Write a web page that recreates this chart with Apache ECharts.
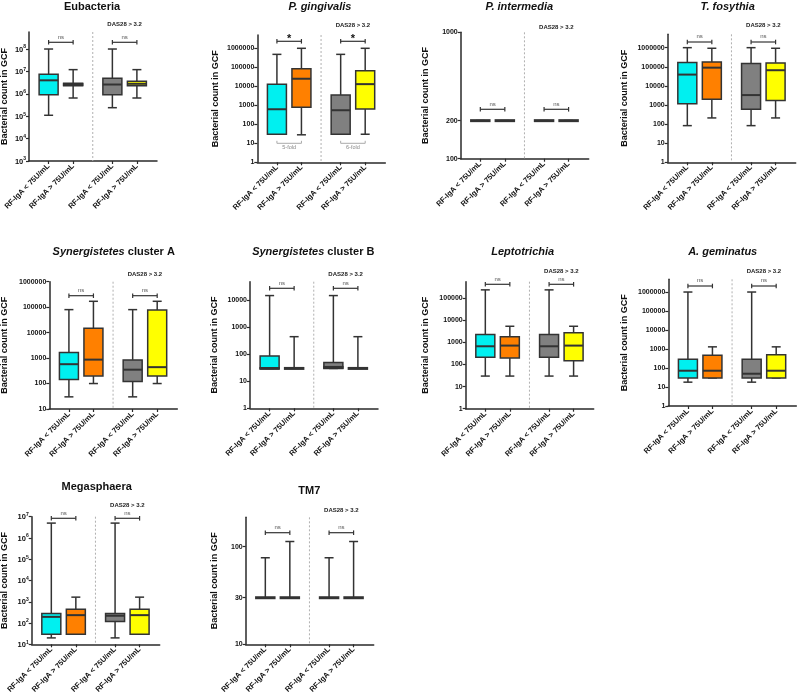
<!DOCTYPE html>
<html><head><meta charset="utf-8">
<script src="https://cdn.jsdelivr.net/npm/echarts@6/dist/echarts.min.js"></script>
<style>html,body{margin:0;padding:0;background:#fff}#c{width:800px;height:698px}</style>
</head><body><div id="c"></div>
<script>
// ---------- DATA ----------
const categories = ['RF-IgA < 75U/mL', 'RF-IgA > 75U/mL', 'RF-IgA < 75U/mL', 'RF-IgA > 75U/mL'];
const subgroupLabel = 'DAS28 > 3.2';
const yAxisTitle = 'Bacterial count in GCF';
const panelTitles = [
  [['Eubacteria', false]], [['P. gingivalis', true]], [['P. intermedia', true]], [['T. fosythia', true]],
  [['Synergistetes', true], [' cluster A', false]], [['Synergistetes', true], [' cluster B', false]],
  [['Leptotrichia', true]], [['A. geminatus', true]], [['Megasphaera', false]], [['TM7', false]]
];
// each group: [min, Q1, median, Q3, max]
const eubacteria = [[1.1e5, 9.0e5, 4.0e6, 7.4e6, 1.0e8], [6.5e5, 2.3e6, 2.6e6, 3.0e6, 1.2e7], [2.4e5, 9.0e5, 2.6e6, 4.9e6, 1.0e8], [6.5e5, 2.3e6, 2.8e6, 3.6e6, 1.2e7]];
const pGingivalis = [[30, 30, 620, 13000, 480000], [28, 780, 25000, 85000, 1000000], [30, 30, 550, 3500, 480000], [30, 630, 13000, 65000, 1000000]];
const pIntermedia = [[200, 200, 200, 200, 200], [200, 200, 200, 200, 200], [200, 200, 200, 200, 200], [200, 200, 200, 200, 200]];
const tForsythia = [[83, 1170, 39000, 170000, 1000000], [210, 2000, 90000, 180000, 930000], [83, 590, 3300, 150000, 1000000], [210, 1700, 66000, 160000, 930000]];
const synergistetesA = [[30, 145, 575, 1660, 80000], [100, 200, 870, 15000, 170000], [30, 120, 350, 850, 80000], [100, 200, 440, 77000, 170000]];
const synergistetesB = [[30, 30, 30, 87, 15000], [30, 30, 30, 30, 450], [30, 30, 33, 50, 15000], [30, 30, 30, 30, 450]];
const leptotrichia = [[30, 215, 670, 2300, 240000], [30, 200, 720, 1800, 5400], [30, 215, 670, 2300, 240000], [30, 150, 720, 2750, 5400]];
const aGeminatus = [[18, 30, 72, 290, 1000000], [30, 30, 72, 470, 1300], [18, 30, 50, 290, 1000000], [30, 30, 72, 500, 1300]];
const megasphaera = [[20, 30, 195, 280, 5000000], [30, 30, 235, 440, 1650], [20, 118, 220, 280, 5000000], [30, 30, 235, 440, 1650]];
const tm7 = [[30, 30, 30, 30, 77], [30, 30, 30, 30, 113], [30, 30, 30, 30, 77], [30, 30, 30, 30, 113]];
const significance = [['ns', 'ns'], ['*', '*'], ['ns', 'ns'], ['ns', 'ns'], ['ns', 'ns'], ['ns', 'ns'], ['ns', 'ns'], ['ns', 'ns'], ['ns', 'ns'], ['ns', 'ns']];
const foldChangePG = ['5-fold', '6-fold'];
// tick labels
const ticksEU = [1e3, 1e4, 1e5, 1e6, 1e7, 1e8];
const ticksPG = [1, 10, 100, 1000, 10000, 100000, 1000000];
const ticksPI = [100, 200, 1000];
const ticksTF = [1, 10, 100, 1000, 10000, 100000, 1000000];
const ticksSA = [10, 100, 1000, 10000, 100000, 1000000];
const ticksSB = [1, 10, 100, 1000, 10000];
const ticksLE = [1, 10, 100, 1000, 10000, 100000];
const ticksAG = [1, 10, 100, 1000, 10000, 100000, 1000000];
const ticksME = [10, 100, 1000, 10000, 100000, 1000000, 10000000];
const ticksTM = [10, 30, 100];

// ---------- LAYOUT ----------
const panelData = [eubacteria, pGingivalis, pIntermedia, tForsythia, synergistetesA, synergistetesB, leptotrichia, aGeminatus, megasphaera, tm7];
const panelTicks = [ticksEU, ticksPG, ticksPI, ticksTF, ticksSA, ticksSB, ticksLE, ticksAG, ticksME, ticksTM];
const layout = [
  {left: 29, top: 32, bottom: 161, ymin: 1e3, ymaxExp: 8.76, sup: true, tx: 92, ty: 7, nx: 5, dasY: 24, brY: 42.3},
  {left: 257.3, top: 35, bottom: 162.3, ymin: 1, ymaxExp: 6.7, tx: 320, ty: 7, nx: 216, dasY: 25.7, brY: 41.3, foldY: 143.3},
  {left: 460.7, top: 32.3, bottom: 158.7, ymin: 100, ymaxExp: 3, tx: 519.3, ty: 7, nx: 426, dasY: 27.3, brY: 109.3},
  {left: 667.7, top: 34.3, bottom: 162.3, ymin: 1, ymaxExp: 6.7, tx: 727.7, ty: 7, nx: 624.5, dasY: 25.7, brY: 42},
  {left: 49.3, top: 281.7, bottom: 409, ymin: 10, ymaxExp: 6, tx: 113.7, ty: 252.3, nx: 5, dasY: 274.3, brY: 295.7},
  {left: 250, top: 281.7, bottom: 408.3, ymin: 1, ymaxExp: 4.69, tx: 313.3, ty: 252.3, nx: 215, dasY: 274.3, brY: 288.3},
  {left: 465.7, top: 281.7, bottom: 408.7, ymin: 1, ymaxExp: 5.75, tx: 522.7, ty: 251.7, nx: 426, dasY: 271, brY: 284.3},
  {left: 668.3, top: 279.3, bottom: 406, ymin: 1, ymaxExp: 6.67, tx: 722.7, ty: 251.7, nx: 624.5, dasY: 271, brY: 286},
  {left: 31.7, top: 516.7, bottom: 644.3, ymin: 10, ymaxExp: 7, sup: true, tx: 96.7, ty: 487, nx: 5, dasY: 505, brY: 518.3},
  {left: 245.7, top: 517.3, bottom: 644.3, ymin: 10, ymaxExp: Math.log10(200), tx: 309.3, ty: 491, nx: 215, dasY: 510.7, brY: 532.7}
];
const xPos = [1, 2, 3.6, 4.6];
const sepX = 2.8;
const XMIN = 0.2, XMAX = 5.42, GRID_W = 128;
const colors = ['#00F0F0', '#FF8000', '#808080', '#FFFF00'];
const FONT = "'Liberation Sans', Arial, sans-serif";
const INK = '#2a2a2a';

const grids = [], xAxes = [], yAxes = [], series = [], graphics = [];

layout.forEach((L, i) => {
  grids.push({left: L.left, top: L.top, width: GRID_W, height: L.bottom - L.top, outerBoundsMode: 'none', containLabel: false});
  xAxes.push({
    gridIndex: i, type: 'value', min: XMIN, max: XMAX,
    axisLine: {show: true, onZero: false, lineStyle: {color: INK, width: 1.5}},
    splitLine: {show: false},
    axisTick: {show: true, customValues: xPos, length: 3, lineStyle: {color: INK, width: 1.2}},
    axisLabel: {
      customValues: xPos, rotate: 45, margin: 4,
      formatter: v => { const k = xPos.findIndex(p => Math.abs(p - v) < 1e-6); return k >= 0 ? categories[k] : ''; },
      fontSize: 7.5, fontWeight: 'bold', color: '#111', fontFamily: FONT
    }
  });
  const ticks = panelTicks[i];
  const yl = {
    customValues: ticks, margin: 3, fontSize: 7, fontWeight: 'bold', color: '#111', fontFamily: FONT,
    formatter: v => {
      if (L.sup) {
        const e = String(Math.round(Math.log10(v)));
        return '{b|10}{s|' + e + '}';
      }
      return String(Math.round(v));
    }
  };
  if (L.sup) {
    yl.rich = {
      b: {fontSize: 7.5, fontWeight: 'bold', fontFamily: FONT, color: '#111', verticalAlign: 'bottom', lineHeight: 9},
      s: {fontSize: 5, fontWeight: 'bold', fontFamily: FONT, color: '#111', verticalAlign: 'top', lineHeight: 9}
    };
  }
  yAxes.push({
    gridIndex: i, type: 'log', logBase: 10, min: L.ymin, max: Math.pow(10, L.ymaxExp),
    axisLine: {show: true, onZero: false, lineStyle: {color: INK, width: 1.5}},
    splitLine: {show: false}, minorTick: {show: false},
    axisTick: {show: true, customValues: ticks, length: 3, lineStyle: {color: INK, width: 1.2}},
    axisLabel: yl
  });

  // box series
  series.push({
    type: 'custom', xAxisIndex: i, yAxisIndex: i, silent: true, animation: false, clip: false,
    data: panelData[i].map((s, k) => [xPos[k], s[0], s[1], s[2], s[3], s[4], k]),
    encode: {x: 0, y: [1, 2, 3, 4, 5]},
    renderItem: (params, api) => {
      const x = api.value(0), k = api.value(6);
      const cx = api.coord([x, api.value(3)])[0];
      const yMin = api.coord([x, api.value(1)])[1];
      const yQ1 = api.coord([x, api.value(2)])[1];
      const yMed = api.coord([x, api.value(3)])[1];
      const yQ3 = api.coord([x, api.value(4)])[1];
      const yMax = api.coord([x, api.value(5)])[1];
      const hw = 9.5, cw = 4.5, st = '#333';
      const ln = (x1, y1, x2, y2, w) => ({type: 'line', shape: {x1, y1, x2, y2}, style: {stroke: st, lineWidth: w}});
      const h = yQ1 - yQ3;
      const ch = [
        ln(cx, yMax, cx, yQ3, 1.5),
        ln(cx, yQ1, cx, yMin, 1.5),
        ln(cx - cw, yMax, cx + cw, yMax, 1.5),
        ln(cx - cw, yMin, cx + cw, yMin, 1.5)
      ];
      if (h > 1.5) {
        ch.push({type: 'rect', shape: {x: cx - hw, y: yQ3, width: 2 * hw, height: h}, style: {fill: colors[k], stroke: st, lineWidth: 1.5}});
        ch.push(ln(cx - hw, yMed, cx + hw, yMed, 2));
        if (Math.abs(yMed - yQ1) < 1.5 || Math.abs(yMed - yQ3) < 1.5) ch.push(ln(cx - hw - 0.75, yMed, cx + hw + 0.75, yMed, 2.8));
      } else {
        ch.push(ln(cx - hw - 0.75, yMed, cx + hw + 0.75, yMed, 3));
      }
      return {type: 'group', children: ch};
    }
  });

  // annotation series
  series.push({
    type: 'custom', xAxisIndex: i, yAxisIndex: i, silent: true, animation: false, clip: false,
    data: [[sepX, L.ymin]],
    encode: {x: 0, y: 1},
    renderItem: (params, api) => {
      const cs = params.coordSys;
      const px = v => api.coord([v, L.ymin])[0];
      const ch = [];
      ch.push({type: 'line', shape: {x1: px(sepX), y1: cs.y, x2: px(sepX), y2: cs.y + cs.height},
        style: {stroke: '#b0b0b0', lineWidth: 1, lineDash: [2, 2]}});
      [[0, 1], [2, 3]].forEach((pr, j) => {
        const x1 = px(xPos[pr[0]]), x2 = px(xPos[pr[1]]), y = L.brY;
        const sty = {stroke: '#333', lineWidth: 1.2};
        ch.push({type: 'line', shape: {x1, y1: y, x2, y2: y}, style: sty});
        ch.push({type: 'line', shape: {x1, y1: y - 2.3, x2: x1, y2: y + 2.3}, style: sty});
        ch.push({type: 'line', shape: {x1: x2, y1: y - 2.3, x2, y2: y + 2.3}, style: sty});
        const sig = significance[i][j];
        if (sig === '*') {
          ch.push({type: 'text', x: (x1 + x2) / 2, y: y + 3, style: {text: sig, fill: '#111', font: 'bold 11px ' + FONT, align: 'center', verticalAlign: 'bottom'}});
        } else {
          ch.push({type: 'text', x: (x1 + x2) / 2, y: y - 2.2, style: {text: sig, fill: '#555', font: '6px ' + FONT, align: 'center', verticalAlign: 'bottom'}});
        }
        if (L.foldY) {
          const fy = L.foldY, fs = {stroke: '#aaa', lineWidth: 1};
          ch.push({type: 'line', shape: {x1, y1: fy, x2, y2: fy}, style: fs});
          ch.push({type: 'line', shape: {x1, y1: fy, x2: x1, y2: fy - 2.5}, style: fs});
          ch.push({type: 'line', shape: {x1: x2, y1: fy, x2, y2: fy - 2.5}, style: fs});
          ch.push({type: 'text', x: (x1 + x2) / 2, y: fy + 4, style: {text: foldChangePG[j], fill: '#888', font: '5.5px ' + FONT, align: 'center', verticalAlign: 'middle'}});
        }
      });
      ch.push({type: 'text', x: (px(xPos[2]) + px(xPos[3])) / 2, y: L.dasY, style: {text: subgroupLabel, fill: '#222', font: 'bold 6px ' + FONT, align: 'center', verticalAlign: 'middle'}});
      return {type: 'group', children: ch};
    }
  });

  // title
  const parts = panelTitles[i];
  graphics.push({
    type: 'text', x: L.tx, y: L.ty, silent: true,
    style: {
      text: parts.map(p => '{' + (p[1] ? 'i' : 'n') + '|' + p[0] + '}').join(''),
      align: 'center', verticalAlign: 'middle',
      rich: {
        i: {fontSize: 11, fontWeight: 'bold', fontStyle: 'italic', fontFamily: FONT, fill: '#111'},
        n: {fontSize: 11, fontWeight: 'bold', fontStyle: 'normal', fontFamily: FONT, fill: '#111'}
      }
    }
  });
  // y axis title
  graphics.push({
    type: 'text', x: L.nx, y: (L.top + L.bottom) / 2, rotation: Math.PI / 2, silent: true,
    style: {text: yAxisTitle, fill: '#111', font: 'bold 9px ' + FONT, align: 'center', verticalAlign: 'middle'}
  });
});

const chart = echarts.init(document.getElementById('c'), null, {renderer: 'canvas'});
chart.setOption({
  animation: false, backgroundColor: '#fff',
  grid: grids, xAxis: xAxes, yAxis: yAxes, series: series, graphic: graphics
});
</script></body></html>
